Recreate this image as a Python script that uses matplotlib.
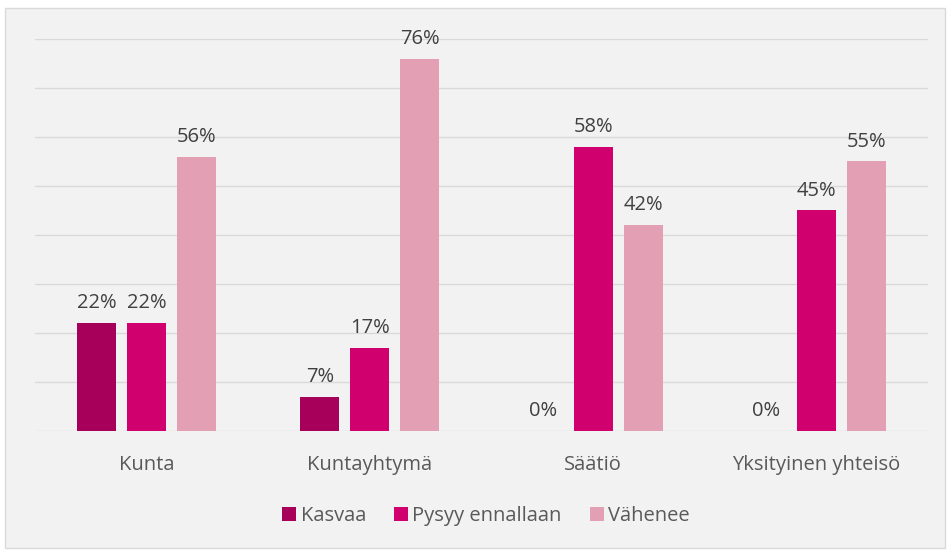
import numpy as np
import matplotlib.pyplot as plt
from matplotlib.patches import Rectangle

categories = ['Kunta', 'Kuntayhtymä', 'Säätiö', 'Yksityinen yhteisö']
series = ['Kasvaa', 'Pysyy ennallaan', 'Vähenee']
kasvaa = [22, 7, 0, 0]
pysyy = [22, 17, 58, 45]
vahenee = [56, 76, 42, 55]

colors = ['#A6005B', '#D0006F', '#E3A0B5']

plt.rcParams['font.family'] = ['Open Sans', 'DejaVu Sans']

fig = plt.figure(figsize=(9.49, 5.5), dpi=100)
fig.patch.set_facecolor('white')
fig.patches.append(Rectangle((5 / 949, 2 / 550), 940 / 949, 540 / 550,
                             transform=fig.transFigure, facecolor='#F2F2F2',
                             edgecolor='#D9D9D9', linewidth=1, zorder=-10))

ax = fig.add_axes([35 / 949, 119 / 550, 893 / 949, 392 / 550])
ax.set_facecolor('none')

x = np.arange(len(categories))
width = 0.175
step = 0.224
for i, (vals, name) in enumerate(zip([kasvaa, pysyy, vahenee], series)):
    pos = x + (i - 1) * step
    ax.bar(pos, vals, width, color=colors[i], label=name, zorder=3)
    for p, v in zip(pos, vals):
        ax.text(p, v + 2.0, f'{v}%', ha='center', va='bottom',
                fontsize=14.5, color='#404040')

ax.set_xlim(-0.5, len(categories) - 0.5)
ax.set_ylim(0, 80)
ax.set_yticks(np.arange(0, 81, 10))
ax.yaxis.grid(True, color='#D9D9D9', linewidth=1.0)
ax.set_axisbelow(True)
ax.tick_params(left=False, labelleft=False, bottom=False)
for s in ax.spines.values():
    s.set_visible(False)
ax.set_xticks(x)
ax.set_xticklabels(categories, fontsize=14.5, color='#595959')
ax.tick_params(axis='x', pad=14)

ax.legend(loc='upper center', bbox_to_anchor=(0.505, -0.145), ncol=3,
          frameon=False, fontsize=14.5, labelcolor='#595959',
          handlelength=0.7, handleheight=0.7, handletextpad=0.2,
          columnspacing=1.4)

fig.savefig('out.png', dpi=100)
